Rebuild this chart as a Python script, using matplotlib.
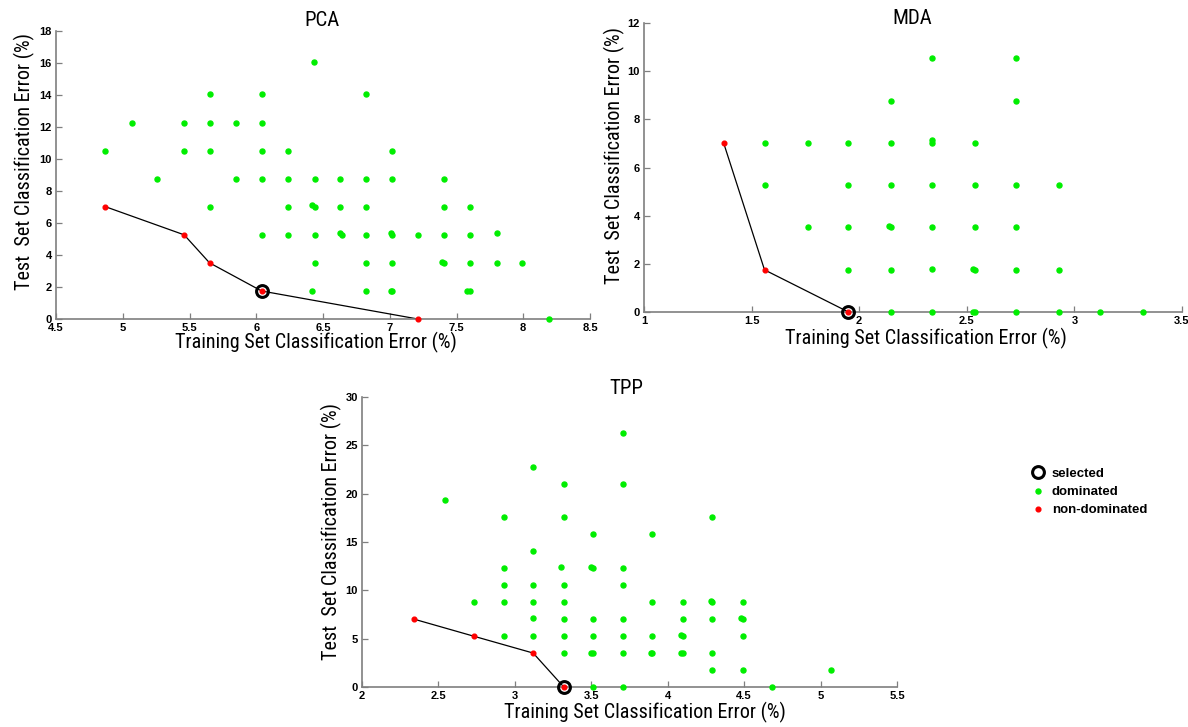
import matplotlib
matplotlib.use("Agg")
import matplotlib.pyplot as plt
from matplotlib import font_manager as fm
from matplotlib.lines import Line2D

# ---------------- data ----------------
# PCA
pca_dom_x = [4.87, 5.07, 5.26, 5.46, 5.46, 5.65, 5.65, 5.65, 5.65, 5.85, 5.85,
             6.04, 6.04, 6.04, 6.04, 6.04, 6.24, 6.24, 6.24, 6.24,
             6.43, 6.42, 6.44, 6.44, 6.44, 6.44, 6.42,
             6.63, 6.63, 6.63, 6.64,
             6.82, 6.82, 6.82, 6.82, 6.82, 6.82,
             7.02, 7.02, 7.01, 7.02, 7.02, 7.01, 7.02,
             7.21, 7.41, 7.41, 7.41, 7.39, 7.41,
             7.60, 7.60, 7.60, 7.58, 7.60, 7.80, 7.80, 7.99, 8.19]
pca_dom_y = [10.53, 12.28, 8.77, 12.28, 10.53, 14.04, 12.28, 10.53, 7.02, 12.28, 8.77,
             14.04, 12.28, 10.53, 8.77, 5.26, 10.53, 8.77, 7.02, 5.26,
             16.08, 7.14, 7.02, 8.77, 5.26, 3.51, 1.75,
             8.77, 7.02, 5.37, 5.26,
             14.04, 8.77, 7.02, 5.26, 3.51, 1.75,
             10.53, 8.77, 5.37, 5.26, 3.51, 1.78, 1.75,
             5.26, 8.77, 7.02, 5.26, 3.58, 3.51,
             7.02, 5.26, 3.51, 1.78, 1.75, 5.37, 3.51, 3.51, 0.0]
pca_front_x = [4.87, 5.46, 5.65, 6.04, 7.21]
pca_front_y = [7.02, 5.26, 3.51, 1.75, 0.0]
pca_sel = (6.04, 1.75)

# MDA
mda_dom_x = [1.56, 1.56, 1.76, 1.76, 1.95, 1.95, 1.95, 1.95,
             2.15, 2.15, 2.15, 2.14, 2.15, 2.15, 2.15,
             2.34, 2.34, 2.34, 2.34, 2.34, 2.34, 2.34,
             2.54, 2.54, 2.54, 2.53, 2.54, 2.53, 2.54,
             2.73, 2.73, 2.73, 2.73, 2.73, 2.73,
             2.93, 2.93, 2.93, 3.12, 3.32]
mda_dom_y = [7.02, 5.26, 7.02, 3.51, 7.02, 5.26, 3.51, 1.75,
             8.77, 7.02, 5.26, 3.58, 3.51, 1.75, 0.0,
             10.53, 7.14, 7.02, 5.26, 3.51, 1.78, 0.0,
             7.02, 5.26, 3.51, 1.78, 1.75, 0.0, 0.0,
             10.53, 8.77, 5.26, 3.51, 1.75, 0.0,
             5.26, 1.75, 0.0, 0.0, 0.0]
mda_front_x = [1.37, 1.56, 1.95]
mda_front_y = [7.02, 1.75, 0.0]
mda_sel = (1.95, 0.0)

# TPP
tpp_dom_x = [2.54, 2.73, 2.93, 2.93, 2.93, 2.93, 2.93,
             3.12, 3.12, 3.12, 3.12, 3.12, 3.12,
             3.32, 3.32, 3.30, 3.32, 3.32, 3.32, 3.32, 3.32,
             3.51, 3.50, 3.51, 3.51, 3.51, 3.50, 3.51, 3.51,
             3.71, 3.71, 3.71, 3.71, 3.71, 3.71, 3.71, 3.71,
             3.90, 3.90, 3.90, 3.89, 3.90,
             4.10, 4.10, 4.09, 4.10, 4.09, 4.10,
             4.29, 4.28, 4.29, 4.29, 4.29, 4.29,
             4.48, 4.49, 4.49, 4.49, 4.49, 4.68, 5.07]
tpp_dom_y = [19.30, 8.77, 17.54, 12.28, 10.53, 8.77, 5.26,
             22.81, 14.04, 10.53, 8.77, 7.14, 5.26,
             21.05, 17.54, 12.46, 10.53, 8.77, 7.02, 5.26, 3.51,
             15.79, 12.46, 12.28, 7.02, 5.26, 3.55, 3.51, 0.0,
             26.32, 21.05, 12.28, 10.53, 7.02, 5.26, 3.51, 0.0,
             15.79, 8.77, 5.26, 3.55, 3.51,
             8.77, 7.02, 5.37, 5.26, 3.55, 3.51,
             17.54, 8.92, 8.77, 7.02, 3.51, 1.75,
             7.14, 7.02, 8.77, 5.26, 1.75, 0.0, 1.75]
tpp_front_x = [2.34, 2.73, 3.12, 3.32]
tpp_front_y = [7.02, 5.26, 3.51, 0.0]
tpp_sel = (3.32, 0.0)

pca_xticks = [4.5, 5, 5.5, 6, 6.5, 7, 7.5, 8, 8.5]
pca_yticks = [0, 2, 4, 6, 8, 10, 12, 14, 16, 18]
mda_xticks = [1, 1.5, 2, 2.5, 3, 3.5]
mda_yticks = [0, 2, 4, 6, 8, 10, 12]
tpp_xticks = [2, 2.5, 3, 3.5, 4, 4.5, 5, 5.5]
tpp_yticks = [0, 5, 10, 15, 20, 25, 30]

xlabel_text = "Training Set Classification Error (%)"
ylabel_text = "Test  Set Classification Error (%)"
legend_labels = ["selected", "dominated", "non-dominated"]

# ---------------- fonts ----------------
installed = {f.name for f in fm.fontManager.ttflist}
narrow = next((n for n in ["Liberation Sans Narrow", "Roboto Condensed",
                           "DejaVu Sans Condensed", "Open Sans Condensed"]
               if n in installed), "DejaVu Sans")
tick_font = "Liberation Sans" if "Liberation Sans" in installed else "DejaVu Sans"

GREEN = "#00ee00"
RED = "#ff0000"
SPINE = "#7f7f7f"

fig = plt.figure(figsize=(11.88, 7.27), dpi=100)
W, H = 1188.0, 727.0


def px_axes(x0, y0, x1, y1):
    return fig.add_axes([x0 / W, 1 - y1 / H, (x1 - x0) / W, (y1 - y0) / H])


def panel(ax, dom_x, dom_y, fr_x, fr_y, sel, xlim, ylim, xticks, yticks):
    ax.plot(fr_x, fr_y, color="black", lw=0.9, zorder=2, clip_on=False)
    ax.plot(dom_x, dom_y, ls="none", marker="o", ms=3.6, mfc=GREEN, mec=GREEN,
            zorder=3, clip_on=False)
    ax.plot(fr_x, fr_y, ls="none", marker="o", ms=3.4, mfc=RED, mec=RED,
            zorder=4, clip_on=False)
    ax.plot([sel[0]], [sel[1]], ls="none", marker="o", ms=8.5, mfc="none",
            mec="black", mew=2.2, zorder=5, clip_on=False)
    ax.set_xlim(*xlim)
    ax.set_ylim(*ylim)
    ax.set_xticks(xticks)
    ax.set_yticks(yticks)
    ax.set_xticklabels([f"{t:g}" for t in xticks])
    ax.set_yticklabels([f"{t:g}" for t in yticks])
    for lab in ax.get_xticklabels() + ax.get_yticklabels():
        lab.set_fontfamily(tick_font)
        lab.set_fontweight("bold")
        lab.set_fontsize(8)
    ax.tick_params(direction="in", length=4, width=0.9, color=SPINE, pad=3)
    for s in ("top", "right"):
        ax.spines[s].set_visible(False)
    for s in ("left", "bottom"):
        ax.spines[s].set_color(SPINE)
        ax.spines[s].set_linewidth(1.2)
    ax.patch.set_alpha(0)


ax1 = px_axes(56, 31, 590, 319)
panel(ax1, pca_dom_x, pca_dom_y, pca_front_x, pca_front_y, pca_sel,
      (4.5, 8.5), (0, 18), pca_xticks, pca_yticks)
ax2 = px_axes(644, 23, 1182, 312)
panel(ax2, mda_dom_x, mda_dom_y, mda_front_x, mda_front_y, mda_sel,
      (1, 3.5), (0, 12), mda_xticks, mda_yticks)
ax3 = px_axes(362, 397, 897, 687)
panel(ax3, tpp_dom_x, tpp_dom_y, tpp_front_x, tpp_front_y, tpp_sel,
      (2, 5.5), (0, 30), tpp_xticks, tpp_yticks)

# titles and axis labels
lab_kw = dict(family=narrow, fontstretch="condensed", color="black")
for (tx, ty, t) in [(322, 20, "PCA"), (912, 18, "MDA"), (626, 389, "TPP")]:
    fig.text(tx / W, 1 - ty / H, t, ha="center", va="center", fontsize=15, **lab_kw)
for (tx, ty) in [(316, 342), (926, 338), (645, 712)]:
    fig.text(tx / W, 1 - ty / H, xlabel_text, ha="center", va="center",
             fontsize=14.5, **lab_kw)
for (tx, ty) in [(24, 161), (614, 155), (331, 531)]:
    fig.text(tx / W, 1 - ty / H, ylabel_text, ha="center", va="center",
             rotation=90, fontsize=14.5, **lab_kw)

# legend
handles = [
    Line2D([], [], ls="none", marker="o", ms=8.5, mfc="none", mec="black", mew=2.2),
    Line2D([], [], ls="none", marker="o", ms=3.6, mfc=GREEN, mec=GREEN),
    Line2D([], [], ls="none", marker="o", ms=3.4, mfc=RED, mec=RED),
]
fig.legend(handles, legend_labels, loc="upper left",
           bbox_to_anchor=(1020 / W, 1 - 456 / H), frameon=False,
           handlelength=1.0, handletextpad=0.5, labelspacing=0.45,
           prop=dict(family=tick_font, weight="bold", size=9.5))

fig.savefig("out.png", dpi=100, facecolor="white")
